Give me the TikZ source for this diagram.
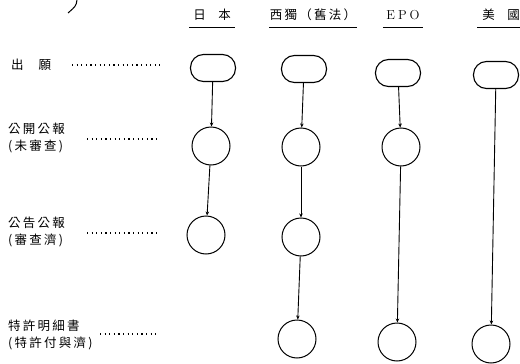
\documentclass[tikz,border=0pt]{standalone}
\usepackage{fontspec}
\newfontfamily\cjk[LetterSpace=18]{Noto Sans CJK TC}
\usetikzlibrary{positioning}
\usetikzlibrary{arrows.meta}
\tikzset{every node/.style={align=left,
           font=\cjk\fontsize{12.5}{17}\selectfont},
         head/.style={ % column heads, underlined below
           inner sep=0pt, minimum height=24pt, align=center},
         lbl/.style={anchor=west, inner sep=0pt},
         filing/.style={ % the rounded start box
           draw, line width=1.1pt, inner sep=0pt,
           minimum width=45pt, minimum height=27pt, rounded corners=13pt},
         pub/.style={ % one publication
           draw, circle, line width=1pt, inner sep=0pt, minimum size=38pt},
         leader/.style={line width=1.1pt, dash pattern=on 1.2pt off 3.4pt},
         every edge/.style={
           draw, -{Stealth[length=4pt,width=3.5pt]},
           line width=0.9pt}}
\begin{document}
\begin{tikzpicture}[x=1pt, y=-1pt]
  \useasboundingbox (0,0) rectangle (520,364);

  % fragment of the cut-off title
  \draw [line width=1pt] (77,0) .. controls (76,6) .. (68,13);

  % column heads
  \node [head, minimum width=45pt] (hjp) at (212,15) {日\hspace{1em}本};
  \node [head, minimum width=87pt] (hde) at (313,15) {西獨（舊法）};
  \node [head, minimum width=40pt] (hep) at (403,15) {\rmfamily\fontsize{13}{15}\selectfont E\hspace{3pt}P\hspace{3pt}O};
  \node [head, minimum width=48pt, anchor=west] (hus) at (477,15) {美\hspace{1em}國};
  \foreach \h in {hjp,hde,hep,hus}
    \draw [line width=1pt] (\h.south west) -- (\h.south east);

  % row labels
  \node [lbl] (lapp) at (11,65) {出\hspace{1.2em}願};
  \node [lbl] (lpub) at (8,138) {公開公報\\(未審查)};
  \node [lbl] (lexa) at (8,232) {公告公報\\(審查濟)};
  \node [lbl] (lgra) at (8,335) {特許明細書\\(特許付與濟)};

  \coordinate (d1a) at (72,65);  \coordinate (d1b) at (160,65);
  \coordinate (d2a) at (87,139); \coordinate (d2b) at (160,139);
  \coordinate (d3a) at (87,233); \coordinate (d3b) at (158,233);
  \coordinate (d4a) at (100,334); \coordinate (d4b) at (158,334);
  \draw [leader] (d1a) -- (d1b);
  \draw [leader] (d2a) -- (d2b);
  \draw [leader] (d3a) -- (d3b);
  \draw [leader] (d4a) -- (d4b);

  % Japan
  \node [filing] (jp0) at (213,68) {};
  \node [pub] (jp1) at (211,146) {};
  \node [pub] (jp2) at (206,235) {};
  % Germany (old law)
  \node [filing] (de0) at (304,69) {};
  \node [pub] (de1) at (301,147) {};
  \node [pub] (de2) at (301,237) {};
  \node [pub] (de3) at (297,339) {};
  % EPO
  \node [filing] (ep0) at (398,73) {};
  \node [pub] (ep1) at (401,147) {};
  \node [pub] (ep3) at (397,342) {};
  % USA
  \node [filing] (us0) at (496,75) {};
  \node [pub] (us3) at (491,344) {};

  \draw (jp0) edge (jp1);
  \draw (jp1) edge (jp2);
  \draw (de0) edge (de1);
  \draw (de1) edge (de2);
  \draw (de2) edge (de3);
  \draw (ep0) edge (ep1);
  \draw (ep1) edge (ep3);
  \draw (us0) edge (us3);

\end{tikzpicture}
\end{document}
